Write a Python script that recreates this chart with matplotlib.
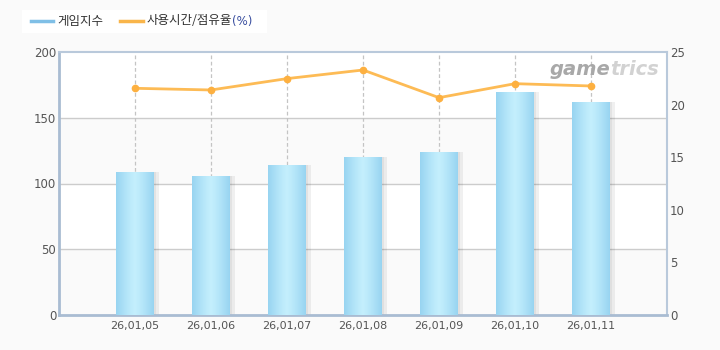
import numpy as np
import matplotlib
matplotlib.use("Agg")
import matplotlib.pyplot as plt
from matplotlib.lines import Line2D
from matplotlib.patches import Rectangle

plt.rcParams['font.family'] = ['Noto Sans CJK KR', 'DejaVu Sans']

categories = ["26,01,05", "26,01,06", "26,01,07", "26,01,08", "26,01,09", "26,01,10", "26,01,11"]
game_index = [108.7, 105.7, 114.0, 120.1, 124.0, 169.6, 162.0]
usage_share = [21.55, 21.39, 22.47, 23.29, 20.66, 21.99, 21.77]
left_ticks = [0, 50, 100, 150, 200]
right_ticks = [0, 5, 10, 15, 20, 25]

W, H = 720, 350
fig = plt.figure(figsize=(W / 100, H / 100), dpi=100, facecolor="#fafafa")
ax = fig.add_axes([59 / W, 35 / H, 608 / W, 263 / H])
ax.set_facecolor("white")
x = np.arange(len(categories))
ax.set_xlim(-1, len(categories))
ax.set_ylim(0, 200)

# alternating bands
for i in range(0, 4):
    if i % 2 == 0:
        ax.axhspan(left_ticks[i], left_ticks[i + 1], color="#fafafa", zorder=0, lw=0)
for t in left_ticks[1:-1]:
    ax.axhline(t, color="#cccccc", lw=1, zorder=1)
for xi in x:
    ax.axvline(xi, color="#c4c4c4", lw=0.9, ls=(0, (3, 2)), zorder=1)

# bar shadows
ax.bar(x + 0.06, game_index, width=0.5, color="#000000", alpha=0.06, zorder=2, lw=0)
ax.bar(x + 0.03, game_index, width=0.5, color="#000000", alpha=0.05, zorder=2, lw=0)
bars = ax.bar(x, game_index, width=0.5, color="#a8dcf5", zorder=3, lw=0)

# gradient fill
grad_vals = np.abs(np.linspace(-1, 1, 64))
c_edge = np.array([0x98, 0xd4, 0xf1]) / 255
c_mid = np.array([0xc4, 0xef, 0xfd]) / 255
grad = (c_mid[None, :] * (1 - grad_vals[:, None] ** 1.2) + c_edge[None, :] * (grad_vals[:, None] ** 1.2))
grad_img = grad[None, :, :]
for b in bars:
    x0, w, h = b.get_x(), b.get_width(), b.get_height()
    im = ax.imshow(grad_img, extent=[x0, x0 + w, 0, h], aspect="auto", zorder=4, interpolation="bilinear")
    im.set_clip_path(b)

ax.set_xticks(x)
ax.set_xticklabels(categories, fontsize=8, color="#555555", family="DejaVu Sans")
ax.set_yticks(left_ticks)
ax.set_yticklabels([str(t) for t in left_ticks], fontsize=8.5, color="#555555", family="DejaVu Sans")
ax.tick_params(axis="both", length=0, pad=2)
ax.tick_params(axis="x", pad=4)

for s in ["left", "bottom"]:
    ax.spines[s].set_color("#a9bcd2")
    ax.spines[s].set_linewidth(2)
for s in ["right", "top"]:
    ax.spines[s].set_color("#b9c9db")
    ax.spines[s].set_linewidth(1.5)

ax2 = ax.twinx()
ax2.set_ylim(0, 25)
ax2.set_yticks(right_ticks)
ax2.set_yticklabels([str(t) for t in right_ticks], fontsize=8.5, color="#555555", family="DejaVu Sans")
ax2.tick_params(axis="y", length=0, pad=2)
for s in ax2.spines.values():
    s.set_visible(False)
ax2.plot(x, usage_share, color="#fdbb55", lw=2, marker="o", ms=4.5, mfc="#fdb040", mec="#fdb040", zorder=5)

# watermark
wx, wy = (610 - 59) / 608, (315 - 60) / 263
ax.text(wx, wy, "game", transform=ax.transAxes, fontsize=14, fontweight="bold", style="italic",
        color="#a8a8a8", ha="right", va="top", family="DejaVu Sans", zorder=1)
ax.text(wx, wy, "trics", transform=ax.transAxes, fontsize=14, fontweight="bold", style="italic",
        color="#d2d2d2", ha="left", va="top", family="DejaVu Sans", zorder=1)

# legend
fig.patches.append(Rectangle((22 / W, 1 - 33 / H), 245 / W, 23 / H, transform=fig.transFigure,
                             facecolor="white", edgecolor="none", zorder=0))
ly = 1 - 21 / H
fig.add_artist(Line2D([31 / W, 53 / W], [ly, ly], color="#7fbfe6", lw=2.5))
fig.add_artist(Line2D([120 / W, 143 / W], [ly, ly], color="#f9b54a", lw=2.5))
fig.text(57 / W, ly, "게임지수", fontsize=9, color="#333333", va="center", ha="left")
fig.text(147 / W, ly, "사용시간/점유율", fontsize=9, color="#333333", va="center", ha="left")
fig.text(232 / W, ly, "(%)", fontsize=8.5, color="#3a4fa0", va="center", ha="left", family="DejaVu Sans")

fig.savefig("out.png", dpi=100, facecolor=fig.get_facecolor())
